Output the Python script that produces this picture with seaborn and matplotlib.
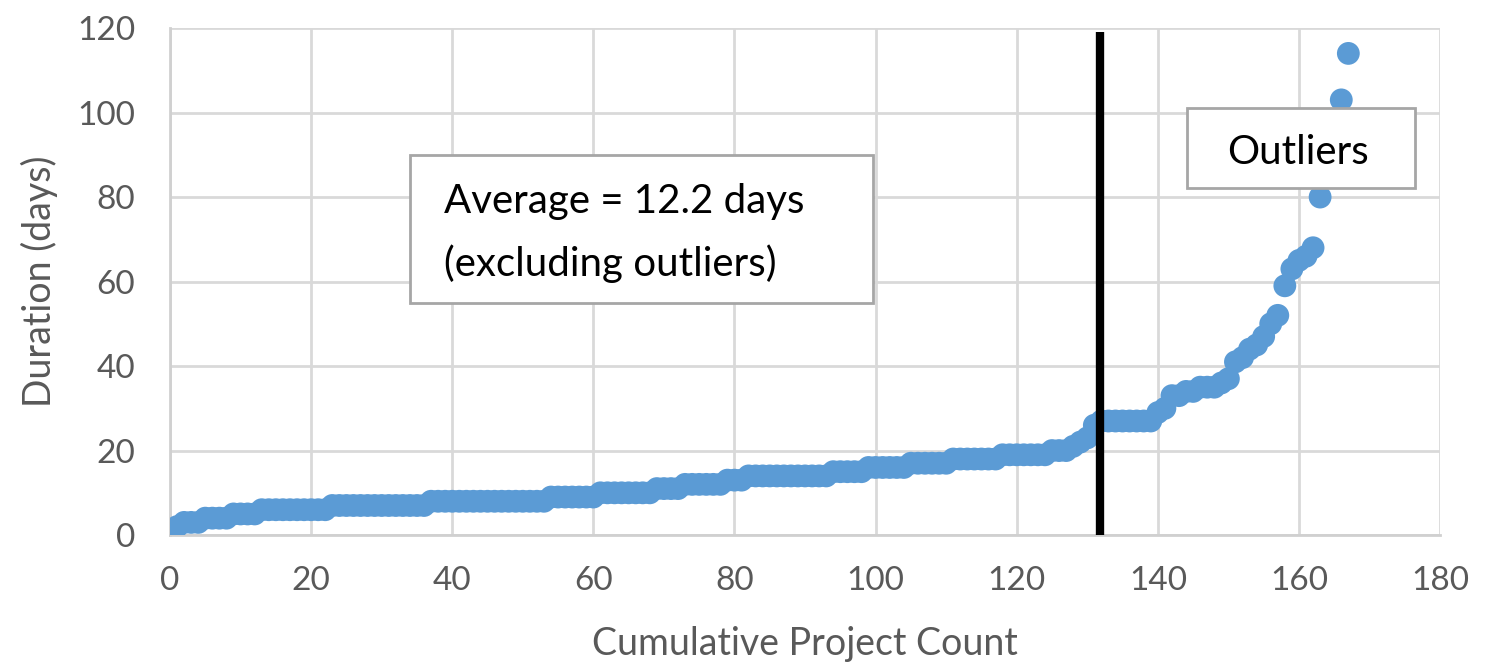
import matplotlib
matplotlib.use("Agg")
import matplotlib.pyplot as plt
from matplotlib.patches import Rectangle
import seaborn as sns
import numpy as np
import pandas as pd

# sorted project durations (days)
durations = [
    2, 3, 3, 3, 4, 4, 4, 4, 5, 5, 5, 5,
    6, 6, 6, 6, 6, 6, 6, 6, 6, 6,
    7, 7, 7, 7, 7, 7, 7, 7, 7, 7, 7, 7, 7, 7,
    8, 8, 8, 8, 8, 8, 8, 8, 8, 8, 8, 8, 8, 8, 8, 8, 8,
    9, 9, 9, 9, 9, 9, 9,
    10, 10, 10, 10, 10, 10, 10, 10,
    11, 11, 11, 11,
    12, 12, 12, 12, 12, 12,
    13, 13, 13,
    14, 14, 14, 14, 14, 14, 14, 14, 14, 14, 14, 14,
    15, 15, 15, 15, 15,
    16, 16, 16, 16, 16, 16,
    17, 17, 17, 17, 17, 17,
    18, 18, 18, 18, 18, 18, 18,
    19, 19, 19, 19, 19, 19, 19,
    20, 20, 20, 21, 22, 23, 26,
    27, 27, 27, 27, 27, 27, 27, 27,
    29, 30, 33, 33, 34, 34, 35, 35, 35, 36, 37,
    41, 42, 44, 45, 47, 50, 52, 59, 63, 65, 66, 68,
    80, 90, 97, 103, 114,
]
project_count = list(range(1, len(durations) + 1))
cutoff = 131.8

df = pd.DataFrame({"count": project_count, "duration": durations})

sns.set_style("white")
plt.rcParams["font.family"] = ["Lato", "DejaVu Sans"]

fig = plt.figure(figsize=(14.94, 6.68), dpi=100)
ax = fig.add_axes([0.1138, 0.199, 0.8501, 0.759])

sns.scatterplot(data=df, x="count", y="duration", ax=ax, s=270,
                color="#5B9BD5", edgecolor="none", zorder=3)

ax.plot([cutoff, cutoff], [0, 119], color="black", lw=6, zorder=4,
        solid_capstyle="butt")

ax.set_xlim(0, 180)
ax.set_ylim(0, 120)
ax.set_xticks(range(0, 181, 20))
ax.set_yticks(range(0, 121, 20))
ax.grid(True, color="#d9d9d9", lw=2)
ax.set_axisbelow(True)
for side in ["top", "right"]:
    ax.spines[side].set_visible(False)
for side in ["left", "bottom"]:
    ax.spines[side].set_color("#d0d0d0")
    ax.spines[side].set_linewidth(2)
ax.tick_params(axis="both", labelsize=24, colors="#595959", length=0)
ax.tick_params(axis="x", pad=22)
ax.tick_params(axis="y", pad=25)

ax.set_xlabel("Cumulative Project Count", fontsize=27, color="#595959", labelpad=22)
ax.set_ylabel("Duration (days)", fontsize=27, color="#595959", labelpad=14)

# annotation boxes
ax.add_patch(Rectangle((34, 54.9), 65.6, 35.1, facecolor="white",
                       edgecolor="#a6a6a6", lw=2, zorder=5))
ax.text(38.8, 71.5, "Average = 12.2 days\n(excluding outliers)", fontsize=29,
        color="black", va="center", ha="left", linespacing=1.75, zorder=6)

ax.add_patch(Rectangle((144.1, 82.1), 32.3, 19.0, facecolor="white",
                       edgecolor="#a6a6a6", lw=2, zorder=5))
ax.text(159.9, 90.6, "Outliers", fontsize=29, color="black", va="center",
        ha="center", zorder=6)

fig.savefig("out.png", dpi=100)
